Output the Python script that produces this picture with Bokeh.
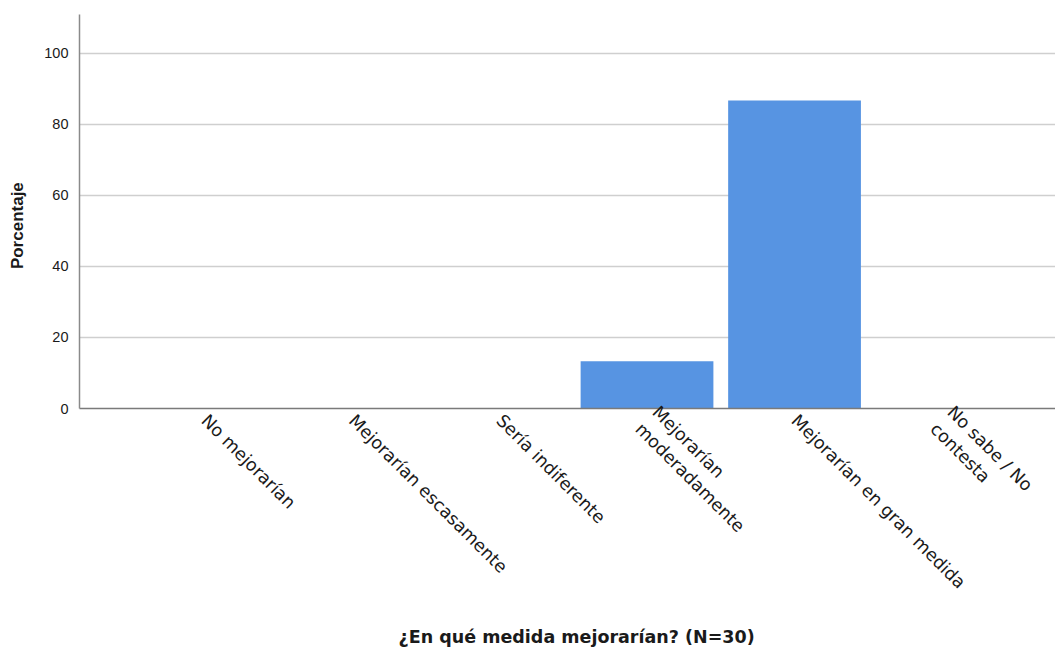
import math
from bokeh.plotting import figure
from bokeh.models import FixedTicker, Range1d, ColumnDataSource
from bokeh.embed import file_html
from bokeh.resources import INLINE

categories = ["No mejorarían", "Mejorarían escasamente", "Sería indiferente",
              "Mejorarían\nmoderadamente", "Mejorarían en gran medida", "No sabe / No\ncontesta"]
percentages = [0.0, 0.0, 0.0, 13.33, 86.67, 0.0]
y_ticks = [0, 20, 40, 60, 80, 100]

NBSP = "\u00a0"
xs = list(range(len(categories)))
src = ColumnDataSource(dict(x=xs, top=percentages))

p = figure(width=1055, height=649, output_backend="svg", toolbar_location=None,
           x_range=Range1d(-0.847, 5.769), y_range=Range1d(0, 110.9),
           min_border_left=79, min_border_right=0, min_border_top=14, min_border_bottom=239)
p.outline_line_color = None
p.background_fill_color = "white"

p.vbar(x="x", top="top", width=0.9, bottom=0, source=src,
       fill_color="#5794e2", line_color=None)

# x axis
p.xaxis.ticker = FixedTicker(ticks=xs)
p.xaxis.major_label_overrides = {i: c for i, c in enumerate(categories)}
p.xaxis.major_label_orientation = -math.pi / 4
p.xaxis.major_tick_line_color = None
p.xaxis.minor_tick_line_color = None
p.xaxis.axis_line_color = "#7a7a7a"
p.xaxis.axis_line_width = 1.5
p.xaxis.major_label_text_font = "DejaVu Sans"
p.xaxis.major_label_text_font_size = "17.5px"
p.xaxis.major_label_text_color = "#1a1a1a"
p.xaxis.major_label_standoff = 3
p.xaxis.axis_label = NBSP * 3 + "¿En qué medida mejorarían? (N=30)"
p.xaxis.axis_label_text_font = "DejaVu Sans"
p.xaxis.axis_label_text_font_style = "bold"
p.xaxis.axis_label_text_font_size = "17.5px"
p.xaxis.axis_label_text_color = "#1a1a1a"
p.xaxis.axis_label_standoff = 24
p.xgrid.grid_line_color = None

# y axis
p.yaxis.ticker = FixedTicker(ticks=y_ticks)
p.yaxis.major_tick_line_color = None
p.yaxis.minor_tick_line_color = None
p.yaxis.axis_line_color = "#8a8a8a"
p.yaxis.axis_line_width = 1.5
p.yaxis.major_label_text_font = "Liberation Sans"
p.yaxis.major_label_text_font_size = "14.5px"
p.yaxis.major_label_text_color = "#1a1a1a"
p.yaxis.major_label_standoff = 5
p.yaxis.axis_label = "Porcentaje" + NBSP * 6
p.yaxis.axis_label_text_font = "Liberation Sans"
p.yaxis.axis_label_text_font_style = "bold"
p.yaxis.axis_label_text_font_size = "17px"
p.yaxis.axis_label_text_color = "#1a1a1a"
p.yaxis.axis_label_standoff = 14
p.ygrid.grid_line_color = "#cfcfcf"
p.ygrid.grid_line_width = 1.5

open("out.html", "w").write(file_html(p, INLINE))
